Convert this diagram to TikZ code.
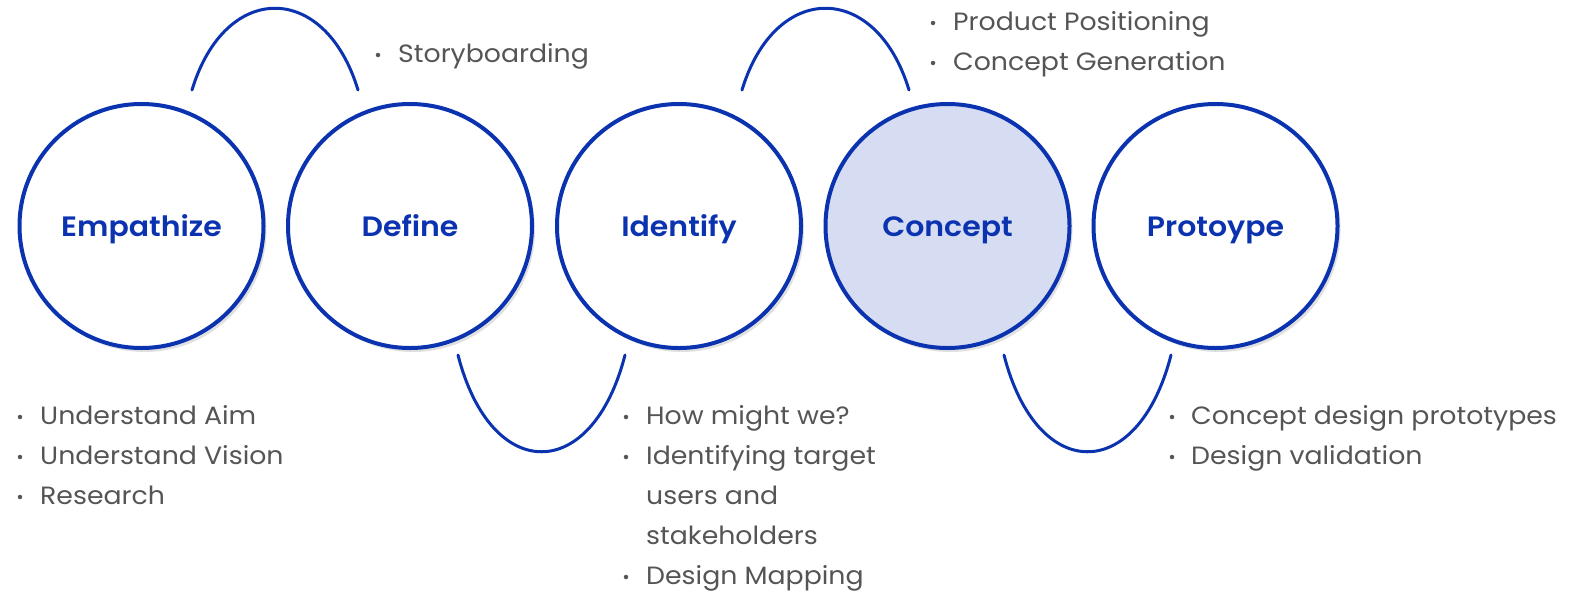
\documentclass[tikz,border=0pt]{standalone}
\usepackage{fontspec}
\setmainfont{Poppins}[FakeStretch=1.07]
\newfontfamily\labfont{Poppins SemiBold}[FakeStretch=1.07]
\usetikzlibrary{shadows}
\definecolor{dblue}{HTML}{0B33B0}
\definecolor{cfill}{HTML}{D6DDF2}
\definecolor{tgray}{HTML}{555555}
\tikzset{
  phase/.style={circle, draw=dblue, line width=4pt, fill=white, minimum size=244pt, inner sep=0pt,
    font=\labfont\fontsize{28}{30}\selectfont, text=dblue, text height=26pt, text depth=6pt,
    drop shadow={shadow xshift=3pt, shadow yshift=-4pt, opacity=0.2, fill=black!60}},
  link/.style={draw=dblue, line width=3pt, line cap=round},
  item/.style={anchor=base west, inner sep=0pt, text=tgray, font=\fontsize{25}{27}\selectfont},
  dot/.style={circle, fill=tgray, inner sep=0pt, minimum size=4.5pt},
}
\begin{document}
\begin{tikzpicture}[x=1pt,y=-1pt]
\useasboundingbox (0,0) rectangle (1571,600);
\node[phase] (emp) at (141.5,226) {Empathize};
\node[phase] (def) at (410,226) {Define};
\node[phase] (ide) at (679,226) {Identify};
\node[phase, fill=cfill] (con) at (947.5,226) {Concept};
\node[phase] (pro) at (1215.5,226) {Protoype};

\coordinate (a1s) at (192,90); \coordinate (a1e) at (358,90);
\coordinate (a2s) at (458,355); \coordinate (a2e) at (625,355);
\coordinate (a3s) at (742,90); \coordinate (a3e) at (909,90);
\coordinate (a4s) at (1004,355); \coordinate (a4e) at (1171,355);
\draw[link] (a1s) .. controls (225,-19) and (325,-19) .. (a1e);
\draw[link] (a2s) .. controls (491,484) and (592,484) .. (a2e);
\draw[link] (a3s) .. controls (775,-19) and (876,-19) .. (a3e);
\draw[link] (a4s) .. controls (1037,484) and (1138,484) .. (a4e);

% Empathize list
\node[dot] (ed1) at (20,417) {}; \node[item] (et1) at (40,424) {Understand Aim};
\node[dot] (ed2) at (20,457) {}; \node[item] (et2) at (40,464) {Understand Vision};
\node[dot] (ed3) at (20,497) {}; \node[item] (et3) at (40,504) {Research};
% Define list
\node[dot] (dd1) at (378,55) {}; \node[item] (dt1) at (398,62) {Storyboarding};
% Identify list
\node[dot] (id1) at (626,417) {}; \node[item] (it1) at (646,424) {How might we?};
\node[dot] (id2) at (626,457) {}; \node[item] (it2) at (646,464) {Identifying target};
\node[item] (it3) at (646,504) {users and};
\node[item] (it4) at (646,544) {stakeholders};
\node[dot] (id5) at (626,577) {}; \node[item] (it5) at (646,584) {Design Mapping};
% Concept list
\node[dot] (cd1) at (933,23) {}; \node[item] (ct1) at (953,30) {Product Positioning};
\node[dot] (cd2) at (933,63) {}; \node[item] (ct2) at (953,70) {Concept Generation};
% Protoype list
\node[dot] (pd1) at (1172,417) {}; \node[item] (pt1) at (1191,424) {Concept design prototypes};
\node[dot] (pd2) at (1172,457) {}; \node[item] (pt2) at (1191,464) {Design validation};
\end{tikzpicture}
\end{document}
